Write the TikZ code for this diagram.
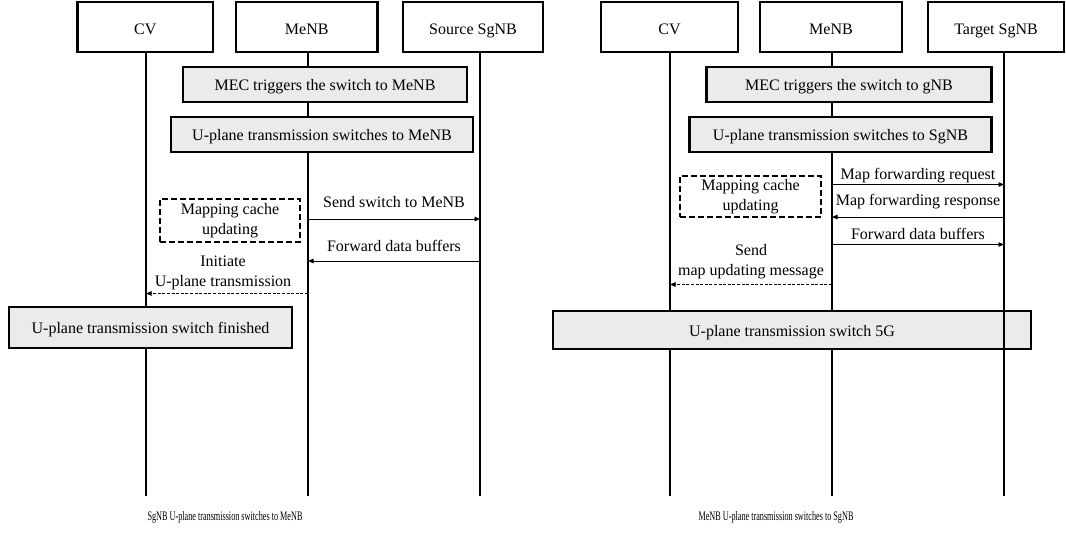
\documentclass[tikz,border=0pt]{standalone}
\usepackage{fontspec}
\setmainfont{Liberation Serif}
\usetikzlibrary{arrows.meta,calc}
\definecolor{stepgray}{RGB}{236,235,235}

\begin{document}
\begin{tikzpicture}[x=1pt,y=-1pt,
  font=\fontsize{16}{19.5}\selectfont,
  actorbox/.style={draw,line width=2.8pt,fill=white,inner sep=0pt,outer sep=0pt,
    anchor=north west,minimum height=50pt,text height=14.5pt,text depth=0pt},
  stepbox/.style={draw,line width=2.8pt,fill=stepgray,inner sep=0pt,outer sep=0pt,
    anchor=north west,minimum height=35pt,text height=12pt,text depth=0pt},
  notebox/.style={draw,line width=2.6pt,dash pattern=on 6pt off 3pt,fill=white,
    inner sep=0pt,outer sep=0pt,anchor=north west,align=center},
  lifeline/.style={line width=1.5pt},
  msg/.style={line width=0.9pt,-{Triangle[length=5.5pt,width=4.5pt]}},
  reply/.style={msg,dash pattern=on 3pt off 1.6pt},
  msglabel/.style={above=5pt,inner sep=0pt,text depth=0pt,align=center},
  caption/.style={font=\fontsize{13}{15}\selectfont,anchor=base}
]
\useasboundingbox (0,0) rectangle (1066,533);

% ---------------- left diagram: SgNB -> MeNB ----------------
\node[actorbox,minimum width=135.5pt] (cvA) at (77.5,2) {CV};
\node[actorbox,minimum width=141.5pt] (meA) at (236,2) {MeNB};
\node[actorbox,minimum width=140pt]   (srA) at (403,2) {Source SgNB};

\coordinate (cvAend) at (146,496);
\coordinate (meAend) at (308,496);
\coordinate (srAend) at (480,496);
\draw[lifeline] (cvAend |- cvA.south) -- (cvAend);
\draw[lifeline] (meAend |- meA.south) -- (meAend);
\draw[lifeline] (srAend |- srA.south) -- (srAend);

\node[stepbox,minimum width=284pt] (trigA) at (183,67) {MEC triggers the switch to MeNB};
\node[stepbox,minimum width=302pt] (upA) at (171,117) {U-plane transmission switches to MeNB};

\node[notebox,minimum width=140pt,minimum height=43pt] (cacheA) at (160,199)
  {Mapping cache\\updating};

\coordinate (sendA1) at (308,219);   \coordinate (sendA2) at (480,219);
\coordinate (fwdA1)  at (480,261);   \coordinate (fwdA2)  at (308,261);
\coordinate (initA1) at (308,293.5); \coordinate (initA2) at (146,293.5);
\draw[msg] (sendA1) -- node[msglabel,above=6pt] {Send switch to MeNB} (sendA2);
\draw[msg] (fwdA1) -- node[msglabel,above=4.5pt] {Forward data buffers} (fwdA2);
\draw[reply] (initA1) -- node[msglabel,above=2pt,xshift=-4pt] {Initiate\\U-plane transmission} (initA2);

\node[stepbox,minimum width=283pt,minimum height=41pt] (finA) at (9,307)
  {U-plane transmission switch finished};

\node[caption] (capA) at (225,520) {\scalebox{0.63}[1]{SgNB U-plane transmission switches to MeNB}};

% ---------------- right diagram: MeNB -> SgNB ----------------
\node[actorbox,minimum width=137pt] (cvB) at (601,2) {CV};
\node[actorbox,minimum width=142pt] (meB) at (760,2) {MeNB};
\node[actorbox,minimum width=136pt] (tgB) at (928,2) {Target SgNB};

\coordinate (cvBend) at (670,496);
\coordinate (meBend) at (832,496);
\coordinate (tgBend) at (1004,496);
\draw[lifeline] (cvBend |- cvB.south) -- (cvBend);
\draw[lifeline] (meBend |- meB.south) -- (meBend);

\node[stepbox,minimum width=285pt] (trigB) at (706.5,67) {MEC triggers the switch to gNB};
\node[stepbox,minimum width=302pt] (upB) at (689.5,117) {U-plane transmission switches to SgNB};

\node[notebox,minimum width=141pt,minimum height=41pt] (cacheB) at (680,176)
  {Mapping cache\\updating};

\coordinate (reqB1)  at (832,184.5);  \coordinate (reqB2)  at (1004,184.5);
\coordinate (resB1)  at (1004,217);   \coordinate (resB2)  at (832,217);
\coordinate (fwdB1)  at (832,244.5);  \coordinate (fwdB2)  at (1004,244.5);
\coordinate (mapB1)  at (832,284.5);  \coordinate (mapB2)  at (670,284.5);
\draw[msg] (reqB1) -- node[msglabel] {Map forwarding request} (reqB2);
\draw[msg] (resB1) -- node[msglabel,above=6pt] {Map forwarding response} (resB2);
\draw[msg] (fwdB1) -- node[msglabel] {Forward data buffers} (fwdB2);
\draw[reply] (mapB1) -- node[msglabel,above=4pt] {Send\\map updating message} (mapB2);

\node[stepbox,minimum width=478pt,minimum height=38pt] (finB) at (553,311)
  {U-plane transmission switch 5G};

% the target lifeline stays visible across the final step box
\draw[lifeline] (tgBend |- tgB.south) -- (tgBend);

\node[caption] (capB) at (776,520) {\scalebox{0.63}[1]{MeNB U-plane transmission switches to SgNB}};
\end{tikzpicture}
\end{document}
